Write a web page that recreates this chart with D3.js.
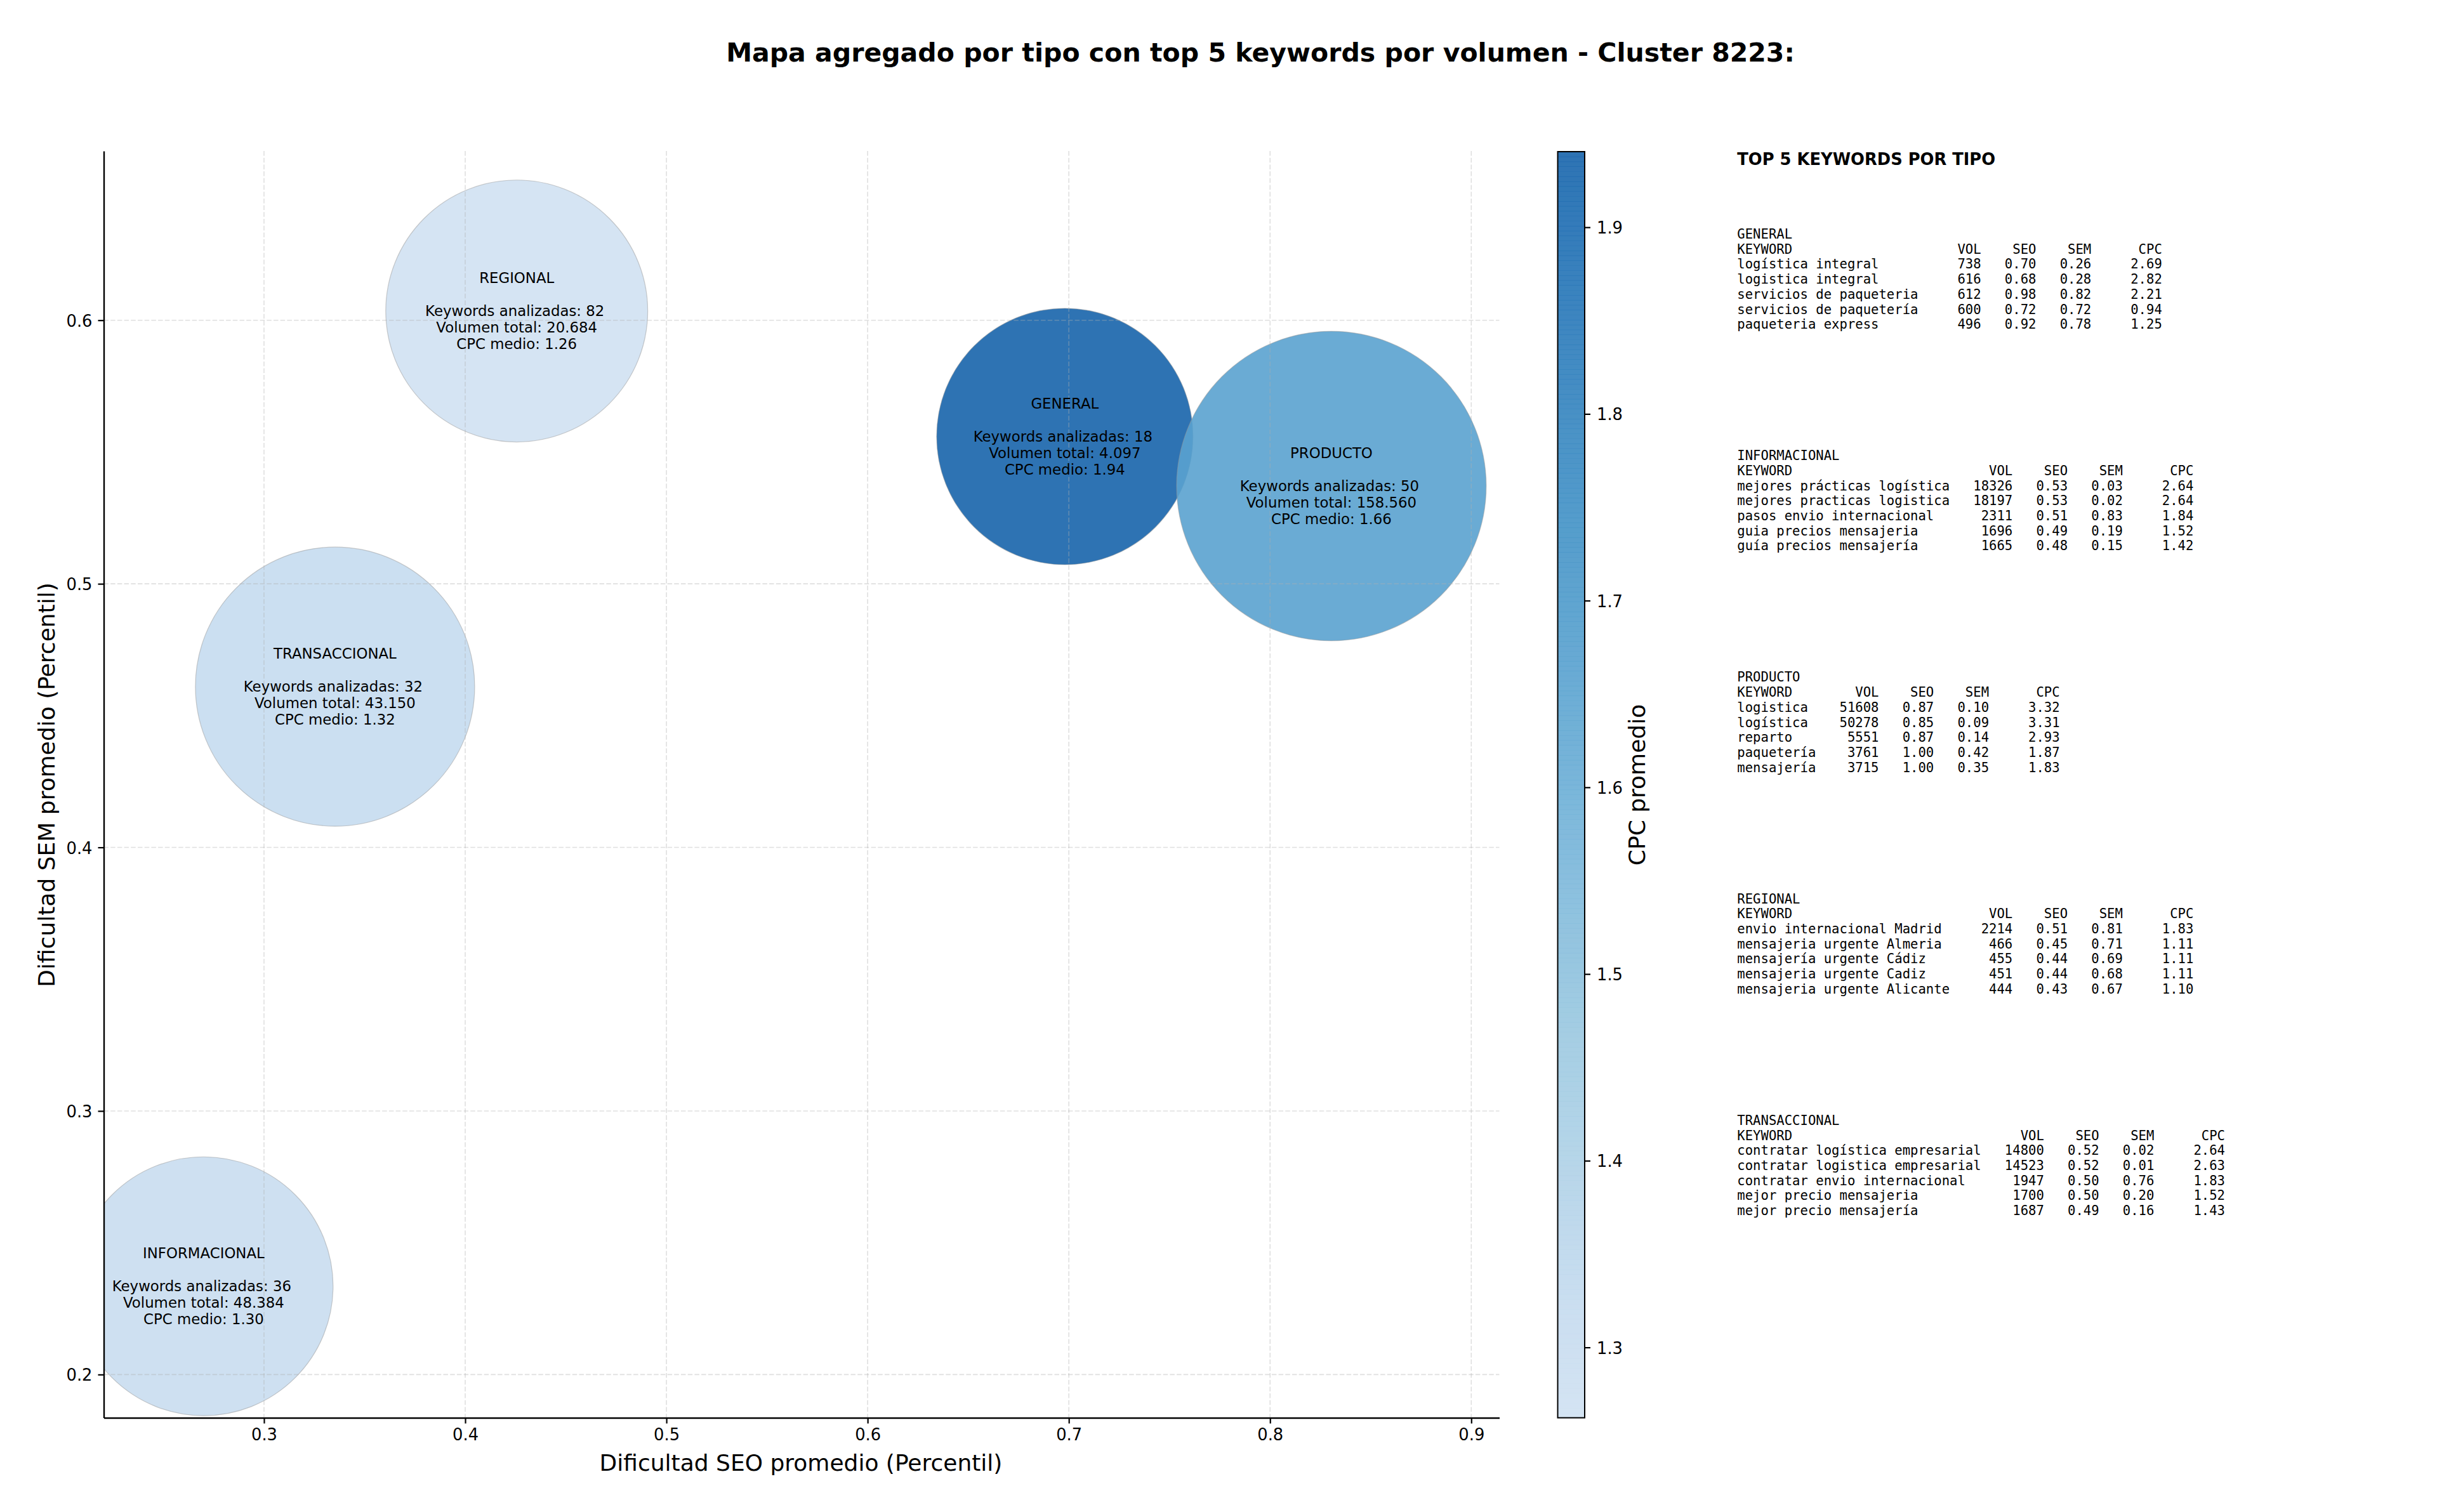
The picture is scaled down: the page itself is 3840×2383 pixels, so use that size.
<!DOCTYPE html>
<html><head><meta charset="utf-8">
<script src="https://cdn.jsdelivr.net/npm/d3@7/dist/d3.min.js"></script>
<style>html,body{margin:0;padding:0;background:#fff}svg{display:block}text{font-family:"DejaVu Sans";fill:#000}.mono{font-family:"DejaVu Sans Mono";white-space:pre}</style>
</head><body><svg id="c" width="3840" height="2383" xmlns="http://www.w3.org/2000/svg"></svg>
<script>
const chartTitle = "Mapa agregado por tipo con top 5 keywords por volumen - Cluster 8223:";
const types = ["GENERAL","INFORMACIONAL","PRODUCTO","REGIONAL","TRANSACCIONAL"];
const seoMean = [0.698,0.270,0.8305,0.4256,0.3353];
const semMean = [0.5559,0.2335,0.5371,0.6035,0.461];
const cpcMean = [1.94,1.30,1.66,1.26,1.32];
const keywordCount = [18,36,50,82,32];
const volumeTotal = [4097,48384,158560,20684,43150];
const bubbleSize = [40.8,41.6,59.5,42.6,48.4];
const xTicks = [0.3,0.4,0.5,0.6,0.7,0.8,0.9];
const yTicks = [0.2,0.3,0.4,0.5,0.6];
const cTicks = [1.3,1.4,1.5,1.6,1.7,1.8,1.9];
const keywordsGeneral = [["logística integral",738,0.70,0.26,2.69],["logistica integral",616,0.68,0.28,2.82],["servicios de paqueteria",612,0.98,0.82,2.21],["servicios de paquetería",600,0.72,0.72,0.94],["paqueteria express",496,0.92,0.78,1.25]];
const keywordsInformacional = [["mejores prácticas logística",18326,0.53,0.03,2.64],["mejores practicas logistica",18197,0.53,0.02,2.64],["pasos envio internacional",2311,0.51,0.83,1.84],["guia precios mensajeria",1696,0.49,0.19,1.52],["guía precios mensajería",1665,0.48,0.15,1.42]];
const keywordsProducto = [["logistica",51608,0.87,0.10,3.32],["logística",50278,0.85,0.09,3.31],["reparto",5551,0.87,0.14,2.93],["paquetería",3761,1.00,0.42,1.87],["mensajería",3715,1.00,0.35,1.83]];
const keywordsRegional = [["envio internacional Madrid",2214,0.51,0.81,1.83],["mensajeria urgente Almeria",466,0.45,0.71,1.11],["mensajería urgente Cádiz",455,0.44,0.69,1.11],["mensajeria urgente Cadiz",451,0.44,0.68,1.11],["mensajeria urgente Alicante",444,0.43,0.67,1.10]];
const keywordsTransaccional = [["contratar logística empresarial",14800,0.52,0.02,2.64],["contratar logistica empresarial",14523,0.52,0.01,2.63],["contratar envio internacional",1947,0.50,0.76,1.83],["mejor precio mensajeria",1700,0.50,0.20,1.52],["mejor precio mensajería",1687,0.49,0.16,1.43]];
const tables = [keywordsGeneral,keywordsInformacional,keywordsProducto,keywordsRegional,keywordsTransaccional];

const svg = d3.select("#c");
const L=163.5,R=2362.5,T=238,B=2234.5;
const x = d3.scaleLinear().domain([0.22036,0.91394]).range([L,R]);
const y = d3.scaleLinear().domain([0.1836,0.6642]).range([B,T]);
const r = d3.scaleSqrt().domain([0,60]).range([0,Math.sqrt(60000)]);
const blues = d3.scaleLinear().domain([0,.125,.25,.375,.5,.625,.75,.875,1]).range(["#f7fbff","#deebf7","#c6dbef","#9ecae1","#6baed6","#4292c6","#2171b5","#08519c","#08306b"]);
const cpcDomain=[1.26,1.94];
const color = d3.scaleLinear().domain(cpcDomain).range([0.2,0.8]);
const fill = v=>blues(color(v));

svg.append("defs").append("clipPath").attr("id","plot").append("rect").attr("x",L).attr("y",T).attr("width",R-L).attr("height",B-T);

svg.append("text").attr("x",1986).attr("y",97).attr("text-anchor","middle").attr("font-weight","bold").attr("font-size",41.05).text(chartTitle);

const plot = svg.append("g").attr("clip-path","url(#plot)");
plot.selectAll("circle").data(types).join("circle")
 .attr("cx",(d,i)=>x(seoMean[i])).attr("cy",(d,i)=>y(semMean[i])).attr("r",(d,i)=>r(bubbleSize[i]))
 .attr("fill",(d,i)=>fill(cpcMean[i])).attr("fill-opacity",0.9)
 .attr("stroke","#999").attr("stroke-opacity",0.5).attr("stroke-width",1.2);

const grid = svg.append("g").attr("stroke","#b0b0b0").attr("stroke-opacity",0.4).attr("stroke-width",1.6).attr("stroke-dasharray","7.5 3.2");
grid.selectAll(".gx").data(xTicks).join("line").attr("x1",d=>x(d)).attr("x2",d=>x(d)).attr("y1",T).attr("y2",B);
grid.selectAll(".gy").data(yTicks).join("line").attr("y1",d=>y(d)).attr("y2",d=>y(d)).attr("x1",L).attr("x2",R);

function styleAxis(g){g.selectAll("path").attr("stroke","#000").attr("stroke-width",2.4);
 g.selectAll("line").attr("stroke","#000").attr("stroke-width",2.2);
 g.selectAll("text").attr("font-family","DejaVu Sans").attr("font-size",25.8).attr("fill","#000");}
svg.append("g").attr("transform",`translate(0,${B})`).call(d3.axisBottom(x).tickValues(xTicks).tickFormat(d3.format(".1f")).tickSize(9).tickPadding(8).tickSizeOuter(0)).call(styleAxis);
svg.append("g").attr("transform",`translate(${L},0)`).call(d3.axisLeft(y).tickValues(yTicks).tickFormat(d3.format(".1f")).tickSize(9).tickPadding(9).tickSizeOuter(0)).call(styleAxis).selectAll("text").attr("dy","0.37em");

svg.append("text").attr("x",1262).attr("y",2318).attr("text-anchor","middle").attr("font-size",36).text("Dificultad SEO promedio (Percentil)");
svg.append("text").attr("transform","translate(86,1237) rotate(-90)").attr("text-anchor","middle").attr("font-size",36).text("Dificultad SEM promedio (Percentil)");

const loc = d3.formatLocale({decimal:",",thousands:".",grouping:[3],currency:["",""]});
const fv = loc.format(",d"), f2=d3.format(".2f");
const lp = 26;
types.forEach((t,i)=>{
 const cx=x(seoMean[i]), cy=y(semMean[i]);
 const g=svg.append("g").attr("text-anchor","middle").attr("font-size",22.85);
 [[t,-2,0],[`Keywords analizadas: ${keywordCount[i]}`,0,-3],[`Volumen total: ${fv(volumeTotal[i])}`,1,0],[`CPC medio: ${f2(cpcMean[i])}`,2,0]].forEach(([s,k,dx])=>{
  g.append("text").attr("x",cx+dx).attr("y",cy+k*lp+8).text(s);
 });
});

// colorbar
const cL=2454.5,cR=2497;
const cy = d3.scaleLinear().domain([1.2623,1.9405]).range([B,T+1]);
const steps=d3.range(256).map(i=>i/256);
const cv=d3.scaleLinear().domain([0,1]).range(cy.domain());
svg.append("g").selectAll("rect").data(steps).join("rect").attr("x",cL).attr("width",cR-cL)
 .attr("y",d=>cy(cv(d+1/256))).attr("height",d=>cy(cv(d))-cy(cv(d+1/256))+0.6)
 .attr("fill",d=>blues(color(Math.max(1.26,Math.min(1.94,cv(d+1/512)))))).attr("fill-opacity",0.9);
svg.append("rect").attr("x",cL).attr("y",T+1).attr("width",cR-cL).attr("height",B-T-1).attr("fill","none").attr("stroke","#000").attr("stroke-width",2);
const cAxis=svg.append("g").attr("transform",`translate(${cR},0)`).call(d3.axisRight(cy).tickValues(cTicks).tickFormat(d3.format(".1f")).tickSize(9).tickPadding(10).tickSizeOuter(0)).call(styleAxis);
cAxis.select("path").remove();
cAxis.selectAll("text").attr("dy","0.37em");
svg.append("text").attr("transform","translate(2592,1237) rotate(-90)").attr("text-anchor","middle").attr("font-size",36).text("CPC promedio");

// side tables
const TX=2737.3;
svg.append("text").attr("x",TX).attr("y",260).attr("font-weight","bold").attr("font-size",25.75).text("TOP 5 KEYWORDS POR TIPO");
const pad=(s,n)=>String(s).padStart(n," ");
types.forEach((t,i)=>{
 const rows=tables[i], w=d3.max(rows,d=>d[0].length);
 const head="KEYWORD".padEnd(w," ")+pad("VOL",8)+pad("SEO",7)+pad("SEM",7)+pad("CPC",9);
 const lines=[t,head].concat(rows.map(d=>d[0].padEnd(w," ")+pad(d[1],8)+pad(f2(d[2]),7)+pad(f2(d[3]),7)+pad(f2(d[4]),9)));
 svg.append("g").selectAll("text").data(lines).join("text").attr("class","mono").attr("xml:space","preserve")
  .attr("x",TX).attr("y",(d,k)=>376+i*349.2+k*23.7).attr("font-size",20.6).text(d=>d);
});
</script></body></html>
